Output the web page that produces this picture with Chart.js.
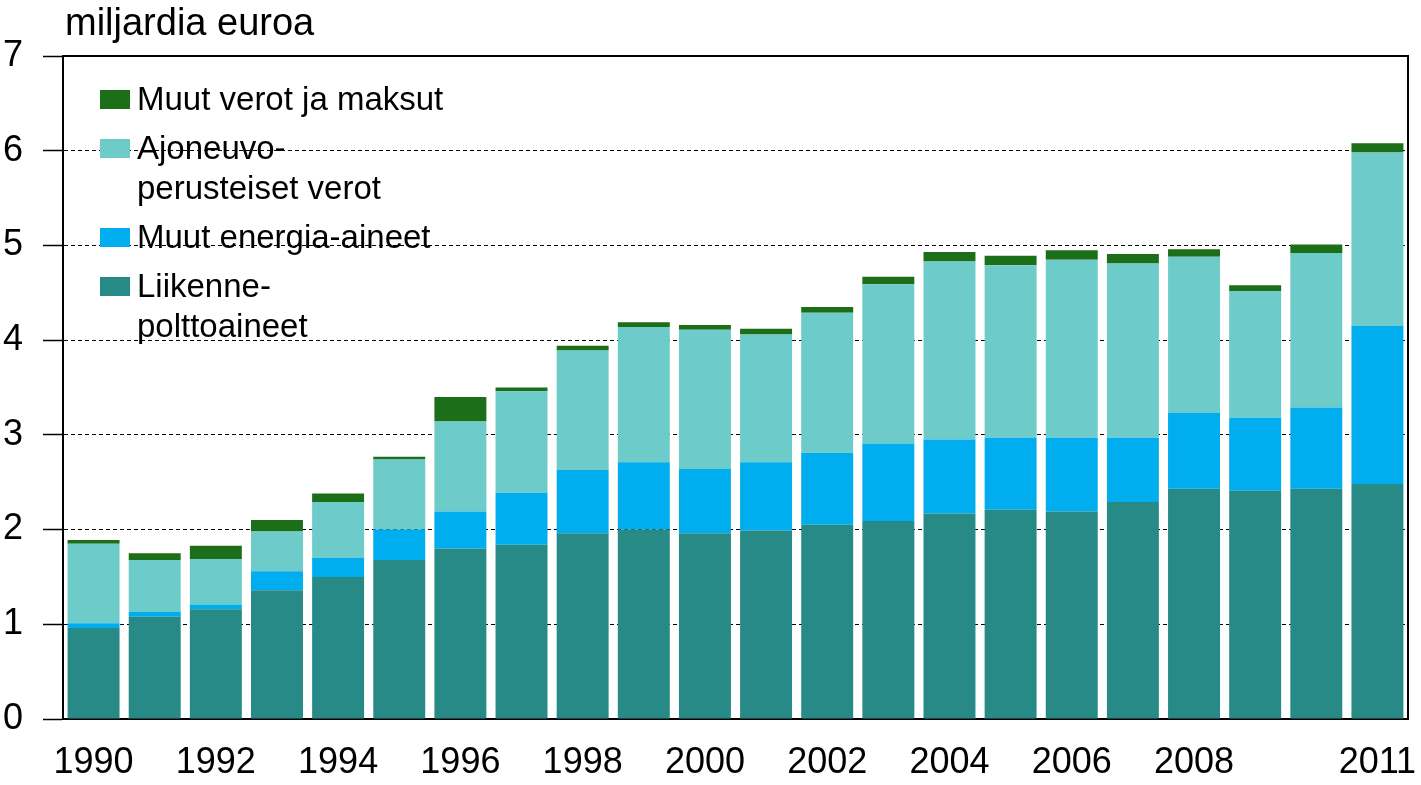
<!DOCTYPE html>
<html lang="fi">

<head>
    <meta charset="UTF-8">
    <title>Liikenteen verot</title>
    <script src="https://cdn.jsdelivr.net/npm/chart.js"></script>
    <style>
        html, body {
            margin: 0;
            padding: 0;
            background: #fff;
        }

        canvas {
            display: block;
        }
    </style>
</head>

<body>
    <canvas id="myChart" width="1421" height="785"></canvas>

    <script>
        const years = ['1990', '1991', '1992', '1993', '1994', '1995', '1996', '1997', '1998', '1999', '2000',
            '2001', '2002', '2003', '2004', '2005', '2006', '2007', '2008', '2009', '2010', '2011']
        // only these years get a label under the axis
        const shownYears = ['1990', '1992', '1994', '1996', '1998', '2000', '2002', '2004', '2006', '2008', '2011']

        const liikennepolttoaineet = [0.96, 1.08, 1.16, 1.36, 1.50, 1.68, 1.80, 1.84, 1.96, 2.00, 1.96,
            1.99, 2.05, 2.09, 2.17, 2.21, 2.19, 2.29, 2.43, 2.41, 2.43, 2.48]
        const muutEnergiaAineet = [0.05, 0.05, 0.05, 0.20, 0.20, 0.32, 0.39, 0.55, 0.67, 0.71, 0.68,
            0.72, 0.76, 0.82, 0.78, 0.76, 0.78, 0.68, 0.80, 0.77, 0.86, 1.67]
        const ajoneuvoVerot = [0.84, 0.55, 0.48, 0.42, 0.59, 0.74, 0.95, 1.07, 1.26, 1.43, 1.47,
            1.35, 1.48, 1.68, 1.88, 1.82, 1.88, 1.84, 1.65, 1.34, 1.63, 1.83]
        const muutVerot = [0.04, 0.07, 0.14, 0.12, 0.09, 0.03, 0.26, 0.04, 0.05, 0.05, 0.05,
            0.06, 0.06, 0.08, 0.10, 0.10, 0.10, 0.10, 0.08, 0.06, 0.09, 0.10]

        const yTicks = [0, 1, 2, 3, 4, 5, 6, 7]

        const fontFamily = '"Liberation Sans", Arial, sans-serif'

        // legend drawn inside the plot, top series first, wrapped like the original
        const legendPlugin = {
            id: 'insideLegend',
            afterDraw(chart) {
                const ctx = chart.ctx
                const area = chart.chartArea
                const sets = chart.data.datasets.slice().reverse()
                let baseline = area.top + 54
                ctx.save()
                ctx.font = '33px ' + fontFamily
                ctx.textBaseline = 'alphabetic'
                ctx.textAlign = 'left'
                sets.forEach((ds) => {
                    ctx.fillStyle = ds.backgroundColor
                    ctx.fillRect(area.left + 37, baseline - 20, 30, 19)
                    ctx.fillStyle = '#000'
                    ds.legendLines.forEach((line, i) => {
                        if (i > 0) baseline += 40
                        ctx.fillText(line, area.left + 74, baseline)
                    })
                    baseline += 49
                })
                ctx.restore()
            }
        }

        // unit text and the closed frame (top + right side)
        const framePlugin = {
            id: 'frame',
            afterDraw(chart) {
                const ctx = chart.ctx
                const area = chart.chartArea
                ctx.save()
                ctx.strokeStyle = '#000'
                ctx.lineWidth = 2
                ctx.beginPath()
                ctx.moveTo(area.left, area.top)
                ctx.lineTo(area.right, area.top)
                ctx.lineTo(area.right, area.bottom)
                ctx.stroke()

                ctx.fillStyle = '#000'
                ctx.font = '38px ' + fontFamily
                ctx.textBaseline = 'alphabetic'
                ctx.fillText('miljardia euroa', area.left + 2, 35)
                ctx.restore()
            }
        }

        var ctx = document.getElementById('myChart').getContext('2d');
        var chart = new Chart(ctx, {
            type: 'bar',
            data: {
                labels: years,
                datasets: [{
                    label: 'Liikennepolttoaineet',
                    legendLines: ['Liikenne-', 'polttoaineet'],
                    data: liikennepolttoaineet,
                    backgroundColor: '#278A87'
                }, {
                    label: 'Muut energia-aineet',
                    legendLines: ['Muut energia-aineet'],
                    data: muutEnergiaAineet,
                    backgroundColor: '#00ADEE'
                }, {
                    label: 'Ajoneuvoperusteiset verot',
                    legendLines: ['Ajoneuvo-', 'perusteiset verot'],
                    data: ajoneuvoVerot,
                    backgroundColor: '#6DCBCA'
                }, {
                    label: 'Muut verot ja maksut',
                    legendLines: ['Muut verot ja maksut'],
                    data: muutVerot,
                    backgroundColor: '#1C6E18'
                }]
            },
            options: {
                responsive: false,
                animation: false,
                layout: {
                    padding: { top: 56, right: 13, bottom: 0, left: 3 }
                },
                datasets: {
                    bar: {
                        barPercentage: 0.85,
                        categoryPercentage: 1
                    }
                },
                plugins: {
                    legend: { display: false },
                    title: { display: false },
                    tooltip: { enabled: false }
                },
                scales: {
                    x: {
                        stacked: true,
                        grid: { display: false, drawTicks: false },
                        border: { display: true, color: '#000', width: 2 },
                        afterFit: (axis) => {
                            // labels fit in the margins already
                            axis.paddingLeft = 0
                            axis.paddingRight = 0
                            axis.height = 66
                        },
                        ticks: {
                            autoSkip: false,
                            maxRotation: 0,
                            padding: 22,
                            color: '#000',
                            font: { family: fontFamily, size: 36 },
                            callback: function (value) {
                                const y = years[value]
                                return shownYears.includes(y) ? y : ''
                            }
                        }
                    },
                    y: {
                        stacked: true,
                        min: yTicks[0],
                        max: yTicks[yTicks.length - 1],
                        afterBuildTicks: (axis) => {
                            axis.ticks = yTicks.map((v) => ({ value: v }))
                        },
                        afterFit: (axis) => {
                            axis.paddingTop = 0
                            axis.paddingBottom = 0
                            axis.width = 60
                        },
                        grid: {
                            color: '#000',
                            lineWidth: 1,
                            tickLength: 20,
                            tickColor: '#000',
                            tickWidth: 1.5,
                            tickBorderDash: []
                        },
                        border: { display: true, color: '#000', width: 2, dash: [4, 3] },
                        ticks: {
                            padding: 20,
                            color: '#000',
                            font: { family: fontFamily, size: 36 }
                        }
                    }
                }
            },
            plugins: [framePlugin, legendPlugin]
        });
    </script>
</body>

</html>
